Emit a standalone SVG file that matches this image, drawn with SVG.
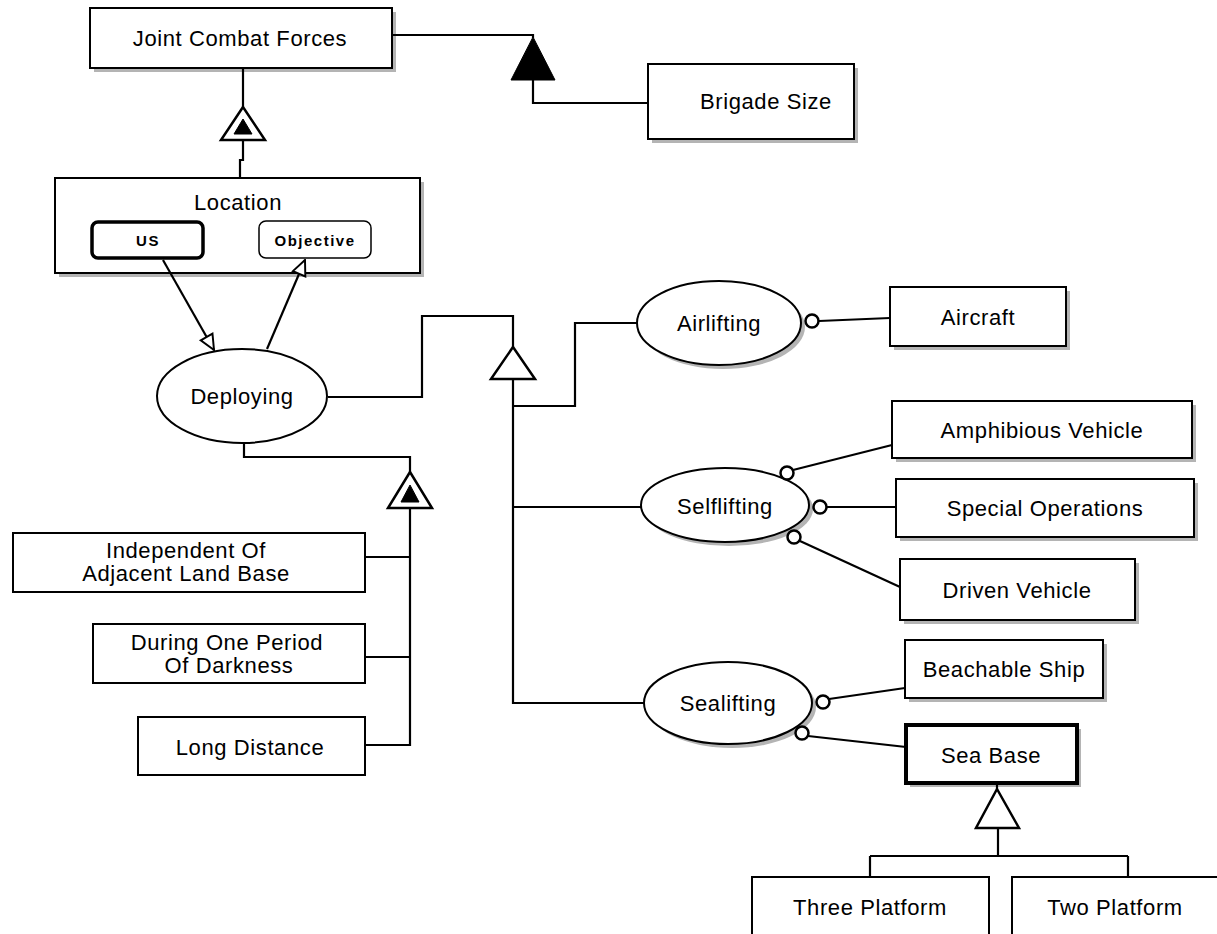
<svg xmlns="http://www.w3.org/2000/svg" width="1217" height="934" viewBox="0 0 1217 934">
<style>
.box{fill:#fff;stroke:#000;stroke-width:2}
.thick{fill:#fff;stroke:#000;stroke-width:4}
.sh{fill:#b4b4b4;stroke:none}
.ell{fill:#fff;stroke:#000;stroke-width:2}
.t{font-family:"Liberation Sans",Arial,sans-serif;font-size:22px;letter-spacing:0.6px;text-anchor:middle;fill:#000}
.s{font-family:"Liberation Sans",Arial,sans-serif;font-size:15px;font-weight:bold;letter-spacing:1.5px;text-anchor:middle;fill:#000}
.ln{fill:none;stroke:#000;stroke-width:2.2}
.tri{fill:#fff;stroke:#000;stroke-width:2.5}
.ftri{fill:#000;stroke:#000;stroke-width:1}
.dot{fill:#fff;stroke:#000;stroke-width:2.5}
</style>
<defs>
<marker id="open" viewBox="0 0 12 12" refX="11" refY="6" markerWidth="18" markerHeight="18" markerUnits="userSpaceOnUse" orient="auto">
<path d="M1,1.5 L11,6 L1,10.5 Z" fill="#fff" stroke="#000" stroke-width="1.3"/>
</marker>
</defs>
<rect width="1217" height="934" fill="#fff"/>

<g id="joint-combat-forces">
<rect class="sh" x="94" y="12" width="302" height="60"/>
<rect class="box" x="90" y="8" width="302" height="60"/>
<text class="t" x="240" y="46">Joint Combat Forces</text>
</g>

<g id="brigade-size">
<rect class="sh" x="652" y="68" width="206" height="75"/>
<rect class="box" x="648" y="64" width="206" height="75"/>
<text class="t" x="766" y="109">Brigade Size</text>
</g>

<g id="location">
<rect class="sh" x="59" y="182" width="365" height="95"/>
<rect class="box" x="55" y="178" width="365" height="95"/>
<text class="t" x="238" y="210">Location</text>
<rect x="92" y="222" width="111" height="36" rx="6" fill="#fff" stroke="#000" stroke-width="3.5"/>
<text class="s" x="148" y="246">US</text>
<rect x="259" y="221" width="112" height="37" rx="7" fill="#fff" stroke="#000" stroke-width="1.5"/>
<text class="s" x="315" y="246">Objective</text>
</g>

<g id="deploying">
<ellipse class="ell" cx="242" cy="396" rx="85" ry="47"/>
<text class="t" x="242" y="404">Deploying</text>
</g>

<g id="airlifting">
<ellipse class="sh" cx="723" cy="327" rx="82" ry="42"/>
<ellipse class="ell" cx="719" cy="323" rx="82" ry="42"/>
<text class="t" x="719" y="331">Airlifting</text>
</g>

<g id="selflifting">
<ellipse class="sh" cx="729" cy="509" rx="84" ry="37"/>
<ellipse class="ell" cx="725" cy="505" rx="84" ry="37"/>
<text class="t" x="725" y="514">Selflifting</text>
</g>

<g id="sealifting">
<ellipse class="sh" cx="732" cy="707" rx="84" ry="41"/>
<ellipse class="ell" cx="728" cy="703" rx="84" ry="41"/>
<text class="t" x="728" y="711">Sealifting</text>
</g>

<g id="aircraft">
<rect class="sh" x="894" y="291" width="176" height="59"/>
<rect class="box" x="890" y="287" width="176" height="59"/>
<text class="t" x="978" y="325">Aircraft</text>
</g>

<g id="amphibious-vehicle">
<rect class="sh" x="896" y="405" width="300" height="57"/>
<rect class="box" x="892" y="401" width="300" height="57"/>
<text class="t" x="1042" y="438">Amphibious Vehicle</text>
</g>

<g id="special-operations">
<rect class="sh" x="900" y="483" width="298" height="58"/>
<rect class="box" x="896" y="479" width="298" height="58"/>
<text class="t" x="1045" y="516">Special Operations</text>
</g>

<g id="driven-vehicle">
<rect class="sh" x="904" y="563" width="235" height="61"/>
<rect class="box" x="900" y="559" width="235" height="61"/>
<text class="t" x="1017" y="598">Driven Vehicle</text>
</g>

<g id="beachable-ship">
<rect class="sh" x="909" y="644" width="198" height="58"/>
<rect class="box" x="905" y="640" width="198" height="58"/>
<text class="t" x="1004" y="677">Beachable Ship</text>
</g>

<g id="sea-base">
<rect class="sh" x="910" y="729" width="171" height="58"/>
<rect class="thick" x="906" y="725" width="171" height="58"/>
<text class="t" x="991" y="763">Sea Base</text>
</g>

<g id="three-platform">
<rect class="box" x="752" y="877" width="237" height="64"/>
<text class="t" x="870" y="915">Three Platform</text>
</g>

<g id="two-platform">
<rect class="box" x="1012" y="877" width="210" height="64"/>
<text class="t" x="1115" y="915">Two Platform</text>
</g>

<g id="independent-of-adjacent-land-base">
<rect class="box" x="13" y="533" width="352" height="59"/>
<text class="t" x="186" y="558">Independent Of</text>
<text class="t" x="186" y="581">Adjacent Land Base</text>
</g>

<g id="during-one-period-of-darkness">
<rect class="box" x="93" y="624" width="272" height="59"/>
<text class="t" x="227" y="650">During One Period</text>
<text class="t" x="229" y="673"> Of Darkness</text>
</g>

<g id="long-distance">
<rect class="box" x="138" y="717" width="227" height="58"/>
<text class="t" x="250" y="755">Long Distance</text>
</g>

<g id="connectors">
<path class="ln" d="M392,35 H533 V38"/>
<polygon class="ftri" points="533,37 511,80 555,80"/>
<path class="ln" d="M533,80 V103 H648"/>
<path class="ln" d="M243,69 V107"/>
<polygon class="tri" points="243,107 221,140 265,140"/>
<polygon class="ftri" points="243,119 234,134 252,134"/>
<path class="ln" d="M243,140 V160 H240 V177"/>
<line class="ln" x1="163" y1="260" x2="214" y2="350" marker-end="url(#open)"/>
<line class="ln" x1="267" y1="349" x2="305" y2="260" marker-end="url(#open)"/>
<path class="ln" d="M328,397 H422 V316 H513 V347"/>
<polygon class="tri" points="513,347 491,379 535,379"/>
<path class="ln" d="M513,379 V703 H644"/>
<path class="ln" d="M513,406 H575 V323 H637"/>
<path class="ln" d="M513,507 H641"/>
<path class="ln" d="M244,443 V457 H410 V472"/>
<polygon class="tri" points="410,472 388,508 432,508"/>
<polygon class="ftri" points="410,485 401,502 419,502"/>
<path class="ln" d="M410,508 V745 H365"/>
<path class="ln" d="M410,557 H365"/>
<path class="ln" d="M410,657 H365"/>
<path class="ln" d="M819,321 L890,318"/>
<path class="ln" d="M793,470 L892,445"/>
<path class="ln" d="M827,507 H896"/>
<path class="ln" d="M800,541 L900,587"/>
<path class="ln" d="M829,699 L905,688"/>
<path class="ln" d="M808,736 L906,747"/>
<path class="ln" d="M997,784 V789"/>
<polygon class="tri" points="997,789 976,828 1019,828"/>
<path class="ln" d="M998,828 V856 M870,856 H1128 M870,856 V877 M1128,856 V877"/>
<circle class="dot" cx="812" cy="321" r="6.5"/>
<circle class="dot" cx="787" cy="473" r="6.5"/>
<circle class="dot" cx="820" cy="507" r="6.5"/>
<circle class="dot" cx="794" cy="537" r="6.5"/>
<circle class="dot" cx="823" cy="702" r="6.5"/>
<circle class="dot" cx="802" cy="733" r="6.5"/>
</g>
</svg>
